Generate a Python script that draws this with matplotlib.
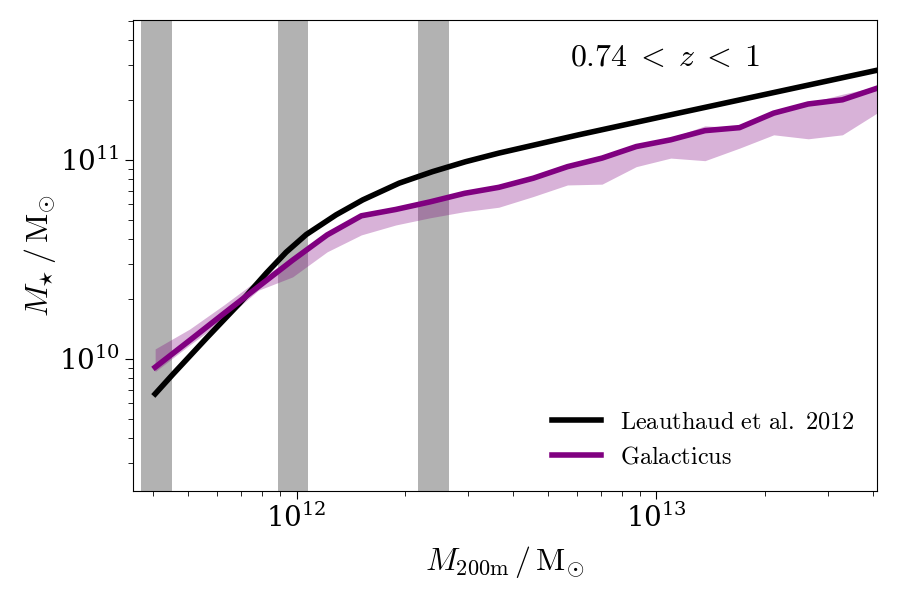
import matplotlib
matplotlib.use('Agg')
import matplotlib.pyplot as plt
import numpy as np
from matplotlib.ticker import NullFormatter

plt.rcParams['mathtext.fontset'] = 'cm'
plt.rcParams['font.family'] = ['DejaVu Serif']

# Leauthaud et al. 2012 relation (log10 halo mass, log10 stellar mass)
leau_logmh = [11.607, 11.657, 11.750, 11.842, 11.916, 11.971, 12.027, 12.110, 12.184,
              12.285, 12.378, 12.470, 12.562, 12.784, 13.061, 13.338, 13.612]
leau_logms = [9.824, 9.924, 10.105, 10.280, 10.431, 10.536, 10.625, 10.724, 10.799,
              10.883, 10.941, 10.991, 11.034, 11.126, 11.235, 11.343, 11.450]

# Galacticus median and spread
gal_logmh = [11.607, 11.703, 11.798, 11.894, 11.989, 12.085, 12.180, 12.276, 12.371,
             12.467, 12.562, 12.658, 12.753, 12.849, 12.944, 13.040, 13.135, 13.231,
             13.326, 13.422, 13.517, 13.613]
gal_logms = [9.958, 10.093, 10.228, 10.363, 10.496, 10.623, 10.719, 10.751, 10.789,
             10.832, 10.862, 10.908, 10.966, 11.009, 11.067, 11.101, 11.147, 11.162,
             11.235, 11.281, 11.302, 11.360]
gal_lo = [9.936, 10.070, 10.196, 10.345, 10.412, 10.538, 10.623, 10.673, 10.709,
          10.740, 10.762, 10.816, 10.874, 10.878, 10.966, 11.009, 10.996, 11.059,
          11.126, 11.106, 11.126, 11.235]
gal_hi = [10.050, 10.150, 10.271, 10.400, 10.508, 10.633, 10.719, 10.751, 10.789,
          10.832, 10.862, 10.910, 10.966, 11.009, 11.067, 11.111, 11.171, 11.162,
          11.241, 11.286, 11.330, 11.368]

# grey bands (log10 halo mass edges)
band_lo = [11.568, 11.948, 12.338]
band_hi = [11.654, 12.033, 12.424]

fig = plt.figure(figsize=(9, 6), dpi=100)
ax = fig.add_axes([0.148, 0.182, 0.826, 0.785])

for lo, hi in zip(band_lo, band_hi):
    ax.axvspan(10**lo, 10**hi, color='k', alpha=0.3, lw=0, zorder=1)

ax.fill_between(10**np.array(gal_logmh), 10**np.array(gal_lo), 10**np.array(gal_hi),
                color='purple', alpha=0.3, lw=0, zorder=1.5)
ax.plot(10**np.array(leau_logmh), 10**np.array(leau_logms), color='k', lw=4,
        label=r'$\mathrm{Leauthaud\ et\ al.\ 2012}$', zorder=3)
ax.plot(10**np.array(gal_logmh), 10**np.array(gal_logms), color='purple', lw=4,
        label=r'$\mathrm{Galacticus}$', zorder=3)

ax.set_xscale('log')
ax.set_yscale('log')
ax.set_xlim(10**11.546, 10**13.612)
ax.set_ylim(10**9.337, 10**11.704)
ax.xaxis.set_minor_formatter(NullFormatter())
ax.yaxis.set_minor_formatter(NullFormatter())
ax.tick_params(which='major', labelsize=20, length=6)
ax.tick_params(which='minor', length=3.5)

ax.set_xlabel(r'$M_{200\mathrm{m}}\,/\,\mathrm{M}_{\odot}$', fontsize=23, labelpad=8)
ax.set_ylabel(r'$M_{\star}\,/\,\mathrm{M}_{\odot}$', fontsize=23, labelpad=1)

ax.text(0.716, 0.921, r'$0.74\;<\;z\;<\;1$', transform=ax.transAxes, fontsize=23,
        ha='center', va='center')

ax.legend(loc='lower right', frameon=False, fontsize=17.5, handlelength=2.0,
          handletextpad=0.8, borderaxespad=0.5)

fig.savefig('out.png', dpi=100)
